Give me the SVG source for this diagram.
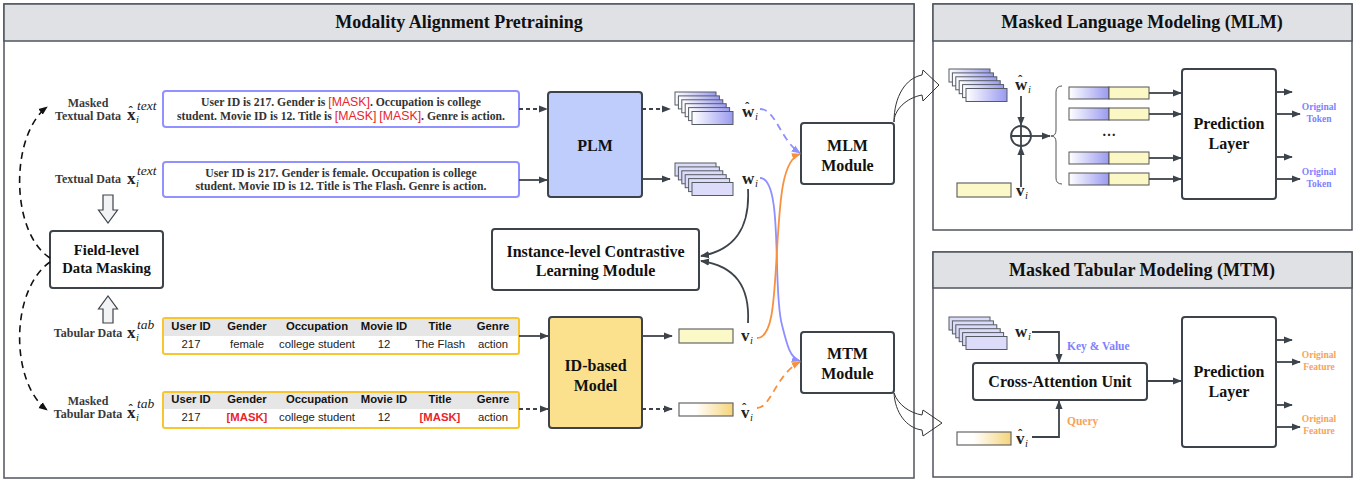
<svg xmlns="http://www.w3.org/2000/svg" width="1367" height="483" viewBox="0 0 1367 483">
<defs>
<style>
.pb{fill:#fff;stroke:#50565d;stroke-width:1.5}
.tb{fill:#dfe1e5;stroke:#50565d;stroke-width:1.5}
.title{font:bold 18px "Liberation Serif",serif;fill:#111;text-anchor:middle;dominant-baseline:central}
.box{fill:#fff;stroke:#3d434a;stroke-width:2}
.bt{font:bold 16px "Liberation Serif",serif;fill:#111;text-anchor:middle;dominant-baseline:central}
.lab{font:bold 12px "Liberation Serif",serif;fill:#3a3a3a;text-anchor:middle;dominant-baseline:central}
.txt{font:bold 11.7px "Liberation Serif",serif;fill:#333;text-anchor:middle;dominant-baseline:central}
.mask{font-family:"Liberation Sans",sans-serif;font-size:12.3px;fill:#e8242c;font-weight:normal}
.tbox{fill:#fff;stroke:#9191ff;stroke-width:2}
.tab{fill:#fff;stroke:#f8c62c;stroke-width:2}
.th{font:bold 11.3px "Liberation Sans",sans-serif;fill:#111;text-anchor:middle;dominant-baseline:central}
.td{font:11.3px "Liberation Sans",sans-serif;fill:#222;text-anchor:middle;dominant-baseline:central}
.tdm{fill:#e8242c;font-weight:bold}
.mx{font:bold 17px "Liberation Serif",serif;fill:#222}
.hat{font:bold 13px "Liberation Serif",serif;fill:#222}
.sub{font:italic 10.5px "Liberation Serif",serif;fill:#222}
.sup{font:italic 13.5px "Liberation Serif",serif;fill:#222}
.card{stroke:#555b63;stroke-width:1}
.c{fill:none;stroke:#3d434a;stroke-width:1.8}
.hollow{fill:#f2f3f5;stroke:#3d434a;stroke-width:1.2}
.big{fill:none;stroke:#333;stroke-width:1}
.small{font:bold 9.5px "Liberation Serif",serif;text-anchor:middle;dominant-baseline:central}
.note{font:bold 11.5px "Liberation Serif",serif;dominant-baseline:central}
</style>
<linearGradient id="gb" x1="0" y1="0" x2="1" y2="0"><stop offset="0" stop-color="#ffffff"/><stop offset="1" stop-color="#9a9af0"/></linearGradient>
<linearGradient id="gg" x1="0" y1="0" x2="1" y2="0"><stop offset="0.3" stop-color="#ffffff"/><stop offset="1" stop-color="#f5d47a"/></linearGradient>
<marker id="ad" viewBox="0 0 10 10" refX="9" refY="5" markerWidth="9" markerHeight="9" markerUnits="userSpaceOnUse" orient="auto"><path d="M0,1 L10,5 L0,9 z" fill="#3d434a"/></marker>
<marker id="ab" viewBox="0 0 10 10" refX="9" refY="5" markerWidth="9" markerHeight="9" markerUnits="userSpaceOnUse" orient="auto"><path d="M0,1 L10,5 L0,9 z" fill="#8f8fff"/></marker>
<marker id="ao" viewBox="0 0 10 10" refX="9" refY="5" markerWidth="9" markerHeight="9" markerUnits="userSpaceOnUse" orient="auto"><path d="M0,1 L10,5 L0,9 z" fill="#f7913d"/></marker>
<marker id="ak" viewBox="0 0 10 10" refX="9" refY="5" markerWidth="9" markerHeight="9" markerUnits="userSpaceOnUse" orient="auto"><path d="M0,1 L10,5 L0,9 z" fill="#111"/></marker>
<g id="stackG">
<rect class="card" x="0" y="0" width="41" height="13" fill="url(#gb)"/>
<rect class="card" x="3.4" y="3.9" width="41" height="13" fill="url(#gb)"/>
<rect class="card" x="6.8" y="7.8" width="41" height="13" fill="url(#gb)"/>
<rect class="card" x="10.2" y="11.7" width="41" height="13" fill="url(#gb)"/>
<rect class="card" x="13.6" y="15.6" width="41" height="13" fill="url(#gb)"/>
<rect class="card" x="17" y="19.5" width="41" height="13" fill="url(#gb)"/>
</g>
<g id="stackS">
<rect class="card" x="0" y="0" width="41" height="13" fill="#dcdcfa"/>
<rect class="card" x="3.4" y="3.9" width="41" height="13" fill="#dcdcfa"/>
<rect class="card" x="6.8" y="7.8" width="41" height="13" fill="#dcdcfa"/>
<rect class="card" x="10.2" y="11.7" width="41" height="13" fill="#dcdcfa"/>
<rect class="card" x="13.6" y="15.6" width="41" height="13" fill="#dcdcfa"/>
<rect class="card" x="17" y="19.5" width="41" height="13" fill="#dcdcfa"/>
</g>
</defs>

<!-- panels -->
<g id="panel-main">
<rect class="pb" x="4" y="4" width="910" height="474"/>
<rect class="tb" x="4" y="4" width="910" height="37"/>
<text class="title" x="459" y="22">Modality Alignment Pretraining</text>
</g>
<g id="panel-mlm">
<rect class="pb" x="933" y="4" width="419" height="226"/>
<rect class="tb" x="933" y="4" width="419" height="37"/>
<text class="title" x="1142" y="22">Masked Language Modeling (MLM)</text>
</g>
<g id="panel-mtm">
<rect class="pb" x="933" y="252" width="419" height="225"/>
<rect class="tb" x="933" y="252" width="419" height="36"/>
<text class="title" x="1142" y="270">Masked Tabular Modeling (MTM)</text>
</g>

<!-- left labels -->
<g id="label-masked-text">
<text class="lab" x="88" y="103">Masked</text>
<text class="lab" x="88" y="116">Textual Data</text>
<text class="hat" x="128.5" y="115">ˆ</text>
<text class="mx" x="127" y="120">x</text>
<text class="sub" x="136" y="123">i</text>
<text class="sup" x="137" y="110">text</text>
</g>
<g id="label-text">
<text class="lab" x="88" y="179">Textual Data</text>
<text class="mx" x="127" y="184">x</text>
<text class="sub" x="136" y="187">i</text>
<text class="sup" x="137" y="175">text</text>
</g>
<g id="label-tab">
<text class="lab" x="88" y="333">Tabular Data</text>
<text class="mx" x="127" y="338">x</text>
<text class="sub" x="136" y="341">i</text>
<text class="sup" x="137" y="329">tab</text>
</g>
<g id="label-masked-tab">
<text class="lab" x="88" y="401">Masked</text>
<text class="lab" x="88" y="414">Tabular Data</text>
<text class="hat" x="128.5" y="413">ˆ</text>
<text class="mx" x="127" y="418">x</text>
<text class="sub" x="136" y="421">i</text>
<text class="sup" x="137" y="408">tab</text>
</g>

<g id="field-masking">
<rect class="box" x="50" y="231" width="113" height="57" rx="3"/>
<text class="bt" x="106.5" y="250" style="font-size:14.7px">Field-level</text>
<text class="bt" x="106.5" y="268" style="font-size:14.7px">Data Masking</text>
</g>
<g id="hollow-arrows">
<path class="hollow" d="M103,195 H113 V210 H117.5 L108,223 L98.5,210 H103 Z"/>
<path class="hollow" d="M103,323 H113 V309 H117.5 L108,296 L98.5,309 H103 Z"/>
</g>

<!-- text boxes -->
<g id="masked-text-box">
<rect class="tbox" x="163" y="91" width="356" height="36" rx="3"/>
<text class="txt" x="341" y="102">User ID is 217. Gender is <tspan class="mask">[MASK]</tspan>. Occupation is college</text>
<text class="txt" x="341" y="116">student. Movie ID is 12. Title is <tspan class="mask">[MASK]</tspan> <tspan class="mask">[MASK]</tspan>. Genre is action.</text>
</g>
<g id="text-box">
<rect class="tbox" x="163" y="162" width="356" height="35" rx="3"/>
<text class="txt" x="341" y="173">User ID is 217. Gender is female. Occupation is college</text>
<text class="txt" x="341" y="186">student. Movie ID is 12. Title is The Flash. Genre is action.</text>
</g>

<!-- tables -->
<g id="table">
<rect class="tab" x="163" y="318" width="356" height="36" rx="2"/>
<rect x="164" y="319" width="354" height="17" fill="#e6e6e6"/>
<text class="th" x="191" y="326">User ID</text><text class="th" x="247" y="326">Gender</text><text class="th" x="317" y="326">Occupation</text><text class="th" x="384" y="326">Movie ID</text><text class="th" x="440" y="326">Title</text><text class="th" x="493" y="326">Genre</text>
<text class="td" x="191" y="344">217</text><text class="td" x="247" y="344">female</text><text class="td" x="317" y="344">college student</text><text class="td" x="384" y="344">12</text><text class="td" x="440" y="344">The Flash</text><text class="td" x="493" y="344">action</text>
</g>
<g id="masked-table">
<rect class="tab" x="163" y="392" width="356" height="36" rx="2"/>
<rect x="164" y="393" width="354" height="16" fill="#e6e6e6"/>
<text class="th" x="191" y="399">User ID</text><text class="th" x="247" y="399">Gender</text><text class="th" x="317" y="399">Occupation</text><text class="th" x="384" y="399">Movie ID</text><text class="th" x="440" y="399">Title</text><text class="th" x="493" y="399">Genre</text>
<text class="td" x="191" y="417">217</text><text class="td tdm" x="247" y="417">[MASK]</text><text class="td" x="317" y="417">college student</text><text class="td" x="384" y="417">12</text><text class="td tdm" x="440" y="417">[MASK]</text><text class="td" x="493" y="417">action</text>
</g>

<!-- models -->
<g id="plm">
<rect x="548" y="92" width="94" height="105" rx="3" fill="#bfcdfd" stroke="#3d434a" stroke-width="2"/>
<text class="bt" x="595" y="145">PLM</text>
</g>
<g id="id-model">
<rect x="549" y="317" width="93" height="111" rx="3" fill="#fbe18d" stroke="#3d434a" stroke-width="2"/>
<text class="bt" x="595.5" y="365">ID-based</text>
<text class="bt" x="595.5" y="385">Model</text>
</g>

<!-- embeddings -->
<g id="w-hat-stack"><use href="#stackG" x="675" y="92"/>
<text class="hat" x="745" y="111">ˆ</text><text class="mx" x="742" y="117">w</text><text class="sub" x="755" y="120">i</text></g>
<g id="w-stack"><use href="#stackS" x="675" y="163"/>
<text class="mx" x="742" y="184">w</text><text class="sub" x="755" y="187">i</text></g>
<g id="v-bar"><rect x="679" y="329" width="54" height="14" fill="#fcf9c8" stroke="#666" stroke-width="1.2"/>
<text class="mx" x="741" y="341">v</text><text class="sub" x="750" y="344">i</text></g>
<g id="v-hat-bar"><rect x="679" y="403" width="54" height="13" fill="url(#gg)" stroke="#666" stroke-width="1.2"/>
<text class="hat" x="742" y="412">ˆ</text><text class="mx" x="741" y="418">v</text><text class="sub" x="750" y="421">i</text></g>

<g id="contrastive">
<rect class="box" x="492" y="229" width="207" height="61" rx="3"/>
<text class="bt" x="595.5" y="251">Instance-level Contrastive</text>
<text class="bt" x="595.5" y="270">Learning Module</text>
</g>
<g id="mlm-module">
<rect class="box" x="801" y="123" width="93" height="61" rx="3"/>
<text class="bt" x="847.5" y="145">MLM</text>
<text class="bt" x="847.5" y="165">Module</text>
</g>
<g id="mtm-module">
<rect class="box" x="801" y="332" width="93" height="61" rx="3"/>
<text class="bt" x="847.5" y="353">MTM</text>
<text class="bt" x="847.5" y="373">Module</text>
</g>

<!-- MLM panel content -->
<g id="mlm-inputs">
<use href="#stackG" x="949" y="69"/>
<text class="hat" x="1018" y="84">ˆ</text><text class="mx" x="1015" y="90">w</text><text class="sub" x="1028" y="93">i</text>
<rect x="957" y="183" width="54" height="14" fill="#fcf9c8" stroke="#666" stroke-width="1.2"/>
<text class="mx" x="1016" y="196">v</text><text class="sub" x="1025" y="199">i</text>
</g>
<g id="oplus">
<circle cx="1021" cy="136" r="10" fill="#fff" stroke="#3d434a" stroke-width="1.8"/>
<path d="M1011,136 H1031 M1021,126 V146" stroke="#3d434a" stroke-width="1.8"/>
</g>
<g id="concat-bars">
<path d="M1062,86 Q1056,86 1056,92 L1056,130 Q1056,136 1051,136 Q1056,136 1056,142 L1056,178 Q1056,184 1062,184" fill="none" stroke="#555" stroke-width="1"/>
<rect x="1069" y="87" width="40" height="12" fill="url(#gb)" stroke="#555" stroke-width="1"/><rect x="1109" y="87" width="40" height="12" fill="#fbf8c6" stroke="#555" stroke-width="1"/>
<rect x="1069" y="108" width="40" height="12" fill="url(#gb)" stroke="#555" stroke-width="1"/><rect x="1109" y="108" width="40" height="12" fill="#fbf8c6" stroke="#555" stroke-width="1"/>
<text x="1109" y="136" style="font:bold 14px 'Liberation Serif',serif;fill:#222;text-anchor:middle">…</text>
<rect x="1069" y="152" width="40" height="12" fill="url(#gb)" stroke="#555" stroke-width="1"/><rect x="1109" y="152" width="40" height="12" fill="#fbf8c6" stroke="#555" stroke-width="1"/>
<rect x="1069" y="173" width="40" height="12" fill="url(#gb)" stroke="#555" stroke-width="1"/><rect x="1109" y="173" width="40" height="12" fill="#fbf8c6" stroke="#555" stroke-width="1"/>
</g>
<g id="mlm-pred">
<rect class="box" x="1182" y="69" width="94" height="130" rx="3"/>
<text class="bt" x="1229" y="123">Prediction</text>
<text class="bt" x="1229" y="143">Layer</text>
</g>
<g id="mlm-out">
<text class="small" x="1319" y="107" fill="#7f7fff">Original</text><text class="small" x="1319" y="119" fill="#7f7fff">Token</text>
<text class="small" x="1319" y="172" fill="#7f7fff">Original</text><text class="small" x="1319" y="184" fill="#7f7fff">Token</text>
</g>

<!-- MTM panel content -->
<g id="mtm-inputs">
<use href="#stackS" x="949" y="317"/>
<text class="mx" x="1015" y="337">w</text><text class="sub" x="1028" y="340">i</text>
<rect x="957" y="432" width="54" height="13" fill="url(#gg)" stroke="#666" stroke-width="1.2"/>
<text class="hat" x="1018" y="438">ˆ</text><text class="mx" x="1016" y="444">v</text><text class="sub" x="1025" y="447">i</text>
<text class="note" x="1067" y="346" fill="#7f7fff">Key &amp; Value</text>
<text class="note" x="1067" y="421" fill="#f7a35c">Query</text>
</g>
<g id="cross-attn">
<rect class="box" x="973" y="363" width="174" height="37" rx="3"/>
<text class="bt" x="1060" y="381.5">Cross-Attention Unit</text>
</g>
<g id="mtm-pred">
<rect class="box" x="1182" y="317" width="94" height="130" rx="3"/>
<text class="bt" x="1229" y="371">Prediction</text>
<text class="bt" x="1229" y="391">Layer</text>
</g>
<g id="mtm-out">
<text class="small" x="1319" y="355" fill="#f7a35c">Original</text><text class="small" x="1319" y="367" fill="#f7a35c">Feature</text>
<text class="small" x="1319" y="419" fill="#f7a35c">Original</text><text class="small" x="1319" y="431" fill="#f7a35c">Feature</text>
</g>

<!-- connectors -->
<g id="connectors">
<path d="M50,258 C10,232 10,135 47,107" fill="none" stroke="#111" stroke-width="1.6" stroke-dasharray="7 5" marker-end="url(#ak)"/>
<path d="M50,262 C10,290 10,382 47,410" fill="none" stroke="#111" stroke-width="1.6" stroke-dasharray="7 5" marker-end="url(#ak)"/>
<path class="c" d="M519,109 H547" stroke-dasharray="4 3" marker-end="url(#ad)"/>
<path class="c" d="M519,180 H547" marker-end="url(#ad)"/>
<path class="c" d="M519,336 H548" marker-end="url(#ad)"/>
<path class="c" d="M519,409 H548" stroke-dasharray="4 3" marker-end="url(#ad)"/>
<path class="c" d="M642,109 H670" stroke-dasharray="4 3" marker-end="url(#ad)"/>
<path class="c" d="M642,179 H670" marker-end="url(#ad)"/>
<path class="c" d="M642,336 H672" marker-end="url(#ad)"/>
<path class="c" d="M642,409 H672" stroke-dasharray="4 3" marker-end="url(#ad)"/>
<path class="c" d="M748,189 C750,228 735,250 701,256" marker-end="url(#ad)"/>
<path class="c" d="M748,323 C750,286 735,266 701,261" marker-end="url(#ad)"/>
<path d="M760,109 C776,109 780,140 800,153" fill="none" stroke="#8f8fff" stroke-width="1.8" stroke-dasharray="7 5" marker-end="url(#ab)"/>
<path d="M760,178 C784,178 772,290 782,325 C787,345 790,358 800,361" fill="none" stroke="#8f8fff" stroke-width="1.8" marker-end="url(#ab)"/>
<path d="M757,338 C773,338 774,300 777,250 C780,200 782,160 800,154" fill="none" stroke="#f7913d" stroke-width="1.8" marker-end="url(#ao)"/>
<path d="M757,408 C771,408 776,374 800,362" fill="none" stroke="#f7913d" stroke-width="1.8" stroke-dasharray="7 5" marker-end="url(#ao)"/>
<path class="big" d="M894,122 C894,96 906,78 922,75 L923,70 L939,85 L923,101 L922,95 C906,98 894,110 894,122 Z"/>
<path class="big" d="M894,393 C898,405 910,413 922,415 L923,410 L942,423 L923,436 L922,430 C906,428 895,412 894,393 Z"/>
<path class="c" d="M1021,96 V125" marker-end="url(#ad)"/>
<path class="c" d="M1021,187 V147" marker-end="url(#ad)"/>
<path class="c" d="M1031,136 H1050" marker-end="url(#ad)"/>
<path class="c" d="M1149,93 H1181" marker-end="url(#ad)"/>
<path class="c" d="M1149,114 H1181" marker-end="url(#ad)"/>
<path class="c" d="M1149,158 H1181" marker-end="url(#ad)"/>
<path class="c" d="M1149,179 H1181" marker-end="url(#ad)"/>
<path class="c" d="M1276,92 H1292" marker-end="url(#ad)"/>
<path class="c" d="M1276,114 H1300" marker-end="url(#ad)"/>
<path class="c" d="M1276,157 H1292" marker-end="url(#ad)"/>
<path class="c" d="M1276,179 H1300" marker-end="url(#ad)"/>
<path class="c" d="M1032,332 H1059 V362" marker-end="url(#ad)"/>
<path class="c" d="M1032,437 H1059 V401" marker-end="url(#ad)"/>
<path class="c" d="M1147,381 H1181" marker-end="url(#ad)"/>
<path class="c" d="M1276,340 H1292" marker-end="url(#ad)"/>
<path class="c" d="M1276,362 H1300" marker-end="url(#ad)"/>
<path class="c" d="M1276,405 H1292" marker-end="url(#ad)"/>
<path class="c" d="M1276,427 H1300" marker-end="url(#ad)"/>
</g>
</svg>
